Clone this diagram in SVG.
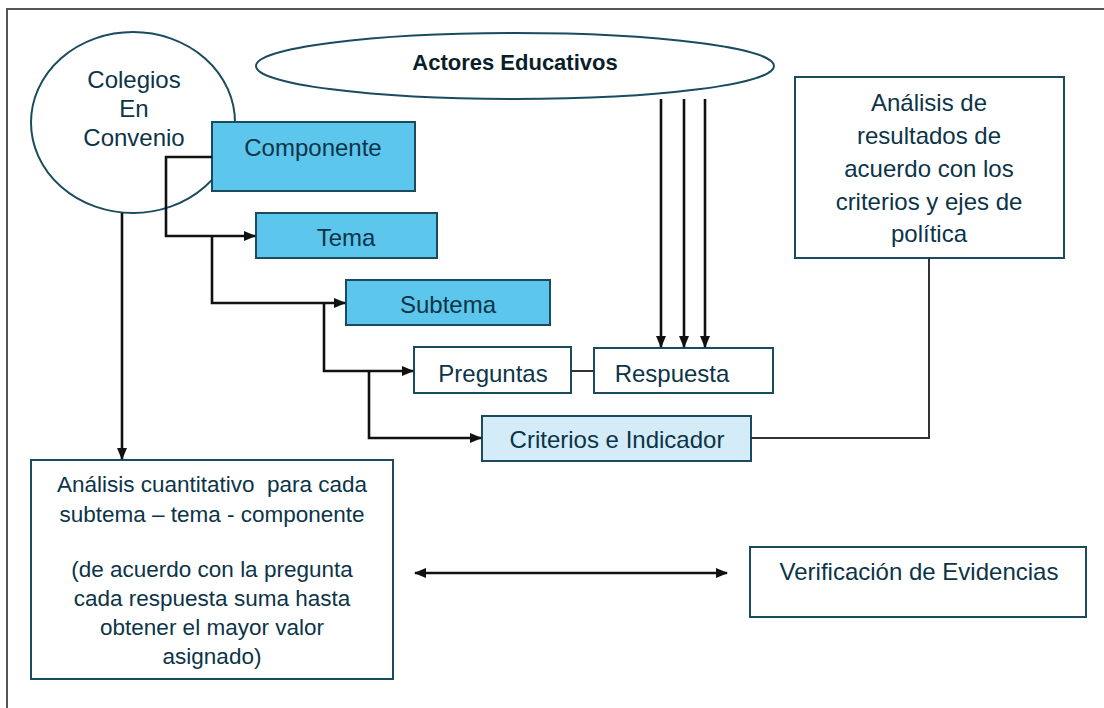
<svg xmlns="http://www.w3.org/2000/svg" width="1104" height="708" viewBox="0 0 1104 708">
<defs>
<marker id="ah" viewBox="0 0 12 10" refX="11" refY="5" markerWidth="12" markerHeight="10" markerUnits="userSpaceOnUse" orient="auto-start-reverse">
<path d="M0,0 L12,5 L0,10 Z" fill="#111"/>
</marker>
<style>
.t{font-family:"Liberation Sans",Arial,sans-serif;font-size:24px;fill:#0c3448;text-anchor:middle}
.s{font-size:22.5px}
.b{font-weight:bold;font-size:22px;fill:#0a1e2a}
.box{stroke:#1b4b5f;stroke-width:2}
.c{fill:none;stroke:#111;stroke-width:2.6}
.thin{fill:none;stroke:#333;stroke-width:2}
</style>
</defs>
<rect width="1104" height="708" fill="#fff"/>
<path d="M7,708 V9 H1104" fill="none" stroke="#555" stroke-width="2"/>
<g id="colegios">
<ellipse cx="133" cy="122.5" rx="102" ry="90.5" fill="#fff" class="box"/>
<text class="t" x="134" y="88">Colegios</text>
<text class="t" x="134" y="117">En</text>
<text class="t" x="134" y="146">Convenio</text>
</g>
<g id="actores">
<ellipse cx="515" cy="66" rx="259" ry="33" fill="#fff" class="box"/>
<text class="t b" x="515" y="70">Actores Educativos</text>
</g>
<g id="componente">
<rect x="212" y="122" width="203" height="69" fill="#5cc6ec" class="box"/>
<text class="t" x="313" y="156">Componente</text>
</g>
<g id="tema">
<rect x="256" y="213" width="181" height="45" fill="#5cc6ec" class="box"/>
<text class="t" x="346" y="246">Tema</text>
</g>
<g id="subtema">
<rect x="346" y="280" width="204" height="45" fill="#5cc6ec" class="box"/>
<text class="t" x="448" y="313">Subtema</text>
</g>
<g id="preguntas">
<rect x="414" y="347" width="157" height="46" fill="#fff" class="box"/>
<text class="t" x="493" y="382">Preguntas</text>
</g>
<g id="respuesta">
<rect x="594" y="348" width="179" height="45" fill="#fff" class="box"/>
<text class="t" x="672" y="382">Respuesta</text>
</g>
<g id="criterios">
<rect x="482" y="416" width="269" height="45" fill="#d3ecf8" class="box"/>
<text class="t" x="617" y="448">Criterios e Indicador</text>
</g>
<g id="analisis-resultados">
<rect x="795" y="77" width="269" height="181" fill="#fff" class="box"/>
<text class="t" x="929" y="111">Análisis de</text>
<text class="t" x="929" y="144">resultados de</text>
<text class="t" x="929" y="177">acuerdo con los</text>
<text class="t" x="929" y="210">criterios y ejes de</text>
<text class="t" x="929" y="242">política</text>
</g>
<g id="analisis-cuantitativo">
<rect x="31" y="460" width="362" height="219" fill="#fff" class="box"/>
<text class="t s" x="212" y="492" xml:space="preserve">Análisis cuantitativo  para cada</text>
<text class="t s" x="212" y="522">subtema – tema - componente</text>
<text class="t s" x="212" y="577">(de acuerdo con la pregunta</text>
<text class="t s" x="212" y="606">cada respuesta suma hasta</text>
<text class="t s" x="212" y="635">obtener el mayor valor</text>
<text class="t s" x="212" y="664">asignado)</text>
</g>
<g id="verificacion">
<rect x="750" y="547" width="336" height="70" fill="#fff" class="box"/>
<text class="t" x="919" y="580">Verificación de Evidencias</text>
</g>
<g id="connectors">
<path class="c" d="M212,157 H166 V236 H255" marker-end="url(#ah)"/>
<path class="c" d="M212,236 V303 H345" marker-end="url(#ah)"/>
<path class="c" d="M324,303 V371 H413" marker-end="url(#ah)"/>
<path class="c" d="M369,371 V438 H481" marker-end="url(#ah)"/>
<path class="thin" d="M571,371 H594"/>
<path class="thin" d="M751,438 H929 V258"/>
<path class="c" d="M661,99 V347" marker-end="url(#ah)"/>
<path class="c" d="M684,99 V347" marker-end="url(#ah)"/>
<path class="c" d="M705,99 V347" marker-end="url(#ah)"/>
<path class="c" d="M122,213 V459" marker-end="url(#ah)"/>
<path class="c" d="M415,573 H727" marker-start="url(#ah)" marker-end="url(#ah)"/>
</g>
</svg>
